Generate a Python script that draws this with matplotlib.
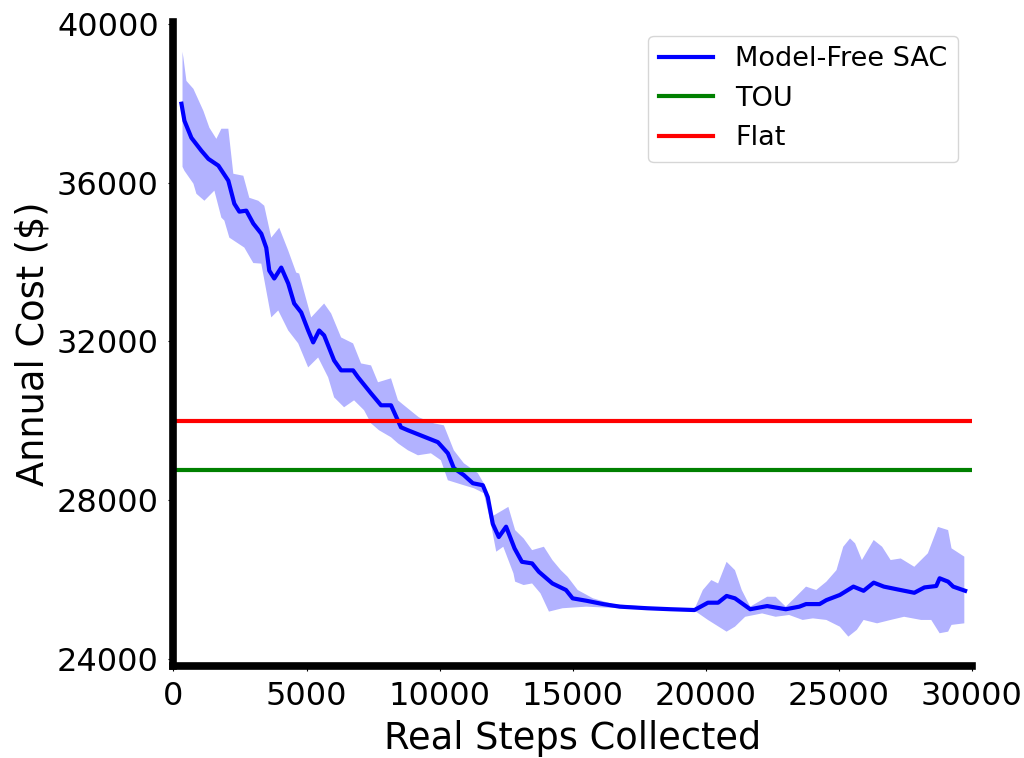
import matplotlib
matplotlib.use("Agg")
import matplotlib.pyplot as plt

# Mean curve of Model-Free SAC
mean_x = [300, 412, 675, 1050, 1312, 1687, 2062, 2287, 2475, 2737, 3000, 3300, 3487,
          3600, 3787, 4050, 4312, 4537, 4800, 5062, 5250, 5475, 5662, 6037, 6300,
          6750, 6937, 7425, 7800, 8175, 8550, 8812, 9562, 9937, 10312, 10537, 10912,
          11250, 11625, 11812, 12000, 12225, 12500, 12820, 13095, 13477, 13730,
          14240, 14750, 15000, 15510, 16144, 16780, 17797, 18686, 19579, 20085,
          20467, 20786, 21101, 21675, 22312, 23010, 23520, 23771, 24281, 24536,
          25042, 25552, 25935, 26314, 26696, 27206, 27840, 28222, 28665, 28792,
          29111, 29302, 29750]
mean_y = [37990, 37560, 37130, 36805, 36600, 36430, 36050, 35470, 35270, 35295,
          34970, 34715, 34360, 33785, 33585, 33860, 33460, 32955, 32730, 32275,
          31975, 32275, 32150, 31520, 31270, 31270, 31095, 30690, 30390, 30390,
          29835, 29760, 29560, 29460, 29180, 28805, 28630, 28425, 28375, 28075,
          27400, 27070, 27330, 26780, 26445, 26405, 26195, 25900, 25735, 25525,
          25465, 25380, 25315, 25275, 25250, 25230, 25415, 25415, 25585, 25525,
          25250, 25330, 25250, 25315, 25380, 25380, 25480, 25610, 25820, 25715,
          25920, 25820, 25750, 25665, 25800, 25835, 26030, 25945, 25820, 25715]

# Upper edge of the shaded band
upper_x = [340, 375, 487, 750, 1125, 1350, 1612, 1800, 2062, 2250, 2625, 2850, 3187,
           3412, 3675, 3975, 4312, 4612, 4725, 5175, 5662, 5925, 6300, 6750, 7050,
           7425, 7687, 8175, 8437, 8662, 9225, 9787, 10162, 10537, 10912, 11437,
           11662, 11850, 11950, 12270, 12585, 12840, 13159, 13477, 13920, 14240,
           14557, 14810, 15191, 15765, 16526, 18052, 19579, 19894, 20212, 20467,
           20786, 21101, 21356, 21675, 22312, 22627, 23010, 23392, 23771, 24154,
           24536, 24915, 25170, 25425, 25616, 25871, 26314, 26632, 26951, 27330,
           27840, 28350, 28729, 29111, 29239, 29720]
upper_y = [39300, 39145, 38565, 38365, 37810, 37385, 37105, 37360, 37360, 36225,
           36175, 35620, 35545, 35420, 34615, 34865, 34290, 33735, 33710, 32605,
           32955, 32705, 32100, 31950, 31445, 31395, 30970, 31070, 30515, 30390,
           30085, 29935, 29885, 29255, 28930, 28680, 28425, 28075, 27580, 27705,
           27830, 27245, 27035, 26740, 26825, 26490, 26235, 26070, 25735, 25525,
           25380, 25300, 25250, 25735, 25985, 25900, 26445, 26235, 25735, 25315,
           25565, 25565, 25315, 25565, 25820, 25735, 25945, 26235, 26825, 27035,
           26910, 26490, 26995, 26825, 26490, 26530, 26320, 26660, 27325, 27245,
           26785, 26575]

# Lower edge of the shaded band
lower_x = [340, 412, 750, 862, 1162, 1537, 1800, 1912, 2100, 2437, 2662, 3000, 3300,
           3675, 3937, 4312, 4687, 5062, 5437, 5812, 6037, 6412, 6787, 7162, 7425,
           7725, 8175, 8437, 8812, 9187, 9675, 10050, 10312, 10912, 11287, 11662,
           11925, 12130, 12394, 12776, 12840, 13159, 13477, 13792, 14111, 14621,
           15510, 16780, 18052, 19579, 20085, 20786, 21101, 21484, 22121, 22627,
           23137, 23645, 24027, 24536, 25042, 25361, 25680, 25935, 26441, 26951,
           27457, 28095, 28477, 28792, 29111, 29239, 29720]
lower_y = [36400, 36300, 35975, 35720, 35545, 35800, 35120, 35045, 34615, 34465,
           34365, 33975, 33960, 32605, 32780, 32275, 31950, 31345, 31595, 31095,
           30590, 30340, 30515, 30265, 29935, 29760, 29585, 29430, 29255, 29130,
           29180, 29005, 28500, 28375, 28300, 28175, 27420, 26700, 26825, 26155,
           25945, 25860, 25900, 25650, 25190, 25275, 25315, 25275, 25250, 25215,
           24980, 24685, 24810, 25060, 25145, 25060, 25105, 24980, 25020, 24980,
           24810, 24560, 24730, 24980, 24895, 24980, 25060, 24980, 24980, 24645,
           24685, 24855, 24895]

tou_cost = 28750
flat_cost = 30000

series_labels = ["Model-Free SAC", "TOU", "Flat"]

fig = plt.figure(figsize=(10.24, 7.58), dpi=100)
ax = fig.add_axes([0.1694, 0.1214, 0.7796, 0.8496])

poly_x = list(upper_x) + list(lower_x[::-1])
poly_y = list(upper_y) + list(lower_y[::-1])
ax.fill(poly_x, poly_y, color="blue", alpha=0.3, linewidth=0)
ax.plot(mean_x, mean_y, color="blue", linewidth=3, label=series_labels[0])
ax.axhline(tou_cost, color="green", linewidth=3, label=series_labels[1])
ax.axhline(flat_cost, color="red", linewidth=3, label=series_labels[2])

ax.set_xlim(0, 30000)
ax.set_ylim(23820, 40050)
ax.set_yticks([24000, 28000, 32000, 36000, 40000])
ax.set_xticks([0, 5000, 10000, 15000, 20000, 25000, 30000])

for s in ["top", "right"]:
    ax.spines[s].set_visible(False)
for s in ["left", "bottom"]:
    ax.spines[s].set_linewidth(5.5)

ax.tick_params(labelsize=23, pad=7)
ax.set_xlabel("Real Steps Collected", fontsize=26.5, labelpad=6)
ax.set_ylabel("Annual Cost ($)", fontsize=26.5)

ax.legend(fontsize=19.5, loc="upper right")

fig.savefig("out.png", dpi=100)
